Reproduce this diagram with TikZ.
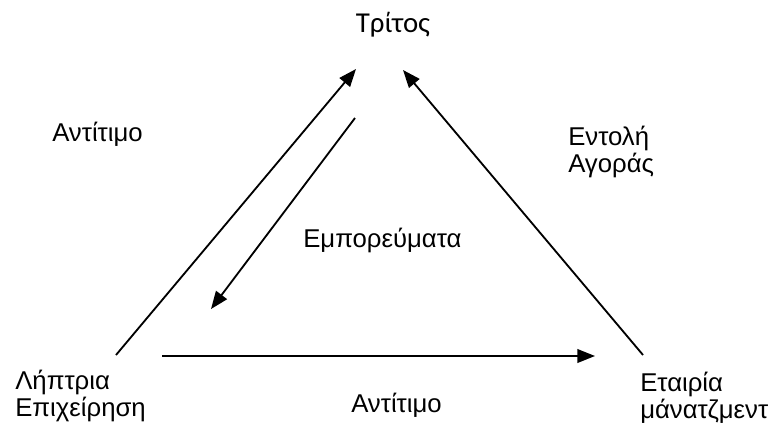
\documentclass[tikz,border=0pt]{standalone}
\usepackage{fontspec}
\setmainfont{Liberation Sans}
\newfontfamily\titlefont{Carlito}
\usetikzlibrary{arrows.meta}

\begin{document}
\begin{tikzpicture}[x=0.025cm,y=-0.025cm,>={Triangle[length=0.44cm,width=0.34cm]},
  lbl/.style={anchor=base west,inner sep=0pt,align=left,font=\fontsize{18.3pt}{19.2pt}\selectfont},
  flow/.style={->,line width=1.3pt}]
  \useasboundingbox (0,0) rectangle (774,429);
  % the three parties
  \node[anchor=base,inner sep=0pt,font=\titlefont\fontsize{20.5pt}{24pt}\selectfont] (tritos) at (393,32) {Τρίτος};
  \node[lbl] (lipt) at (15,416) {Λήπτρια\\Επιχείρηση};
  \node[lbl] (etair) at (640,418) {Εταιρία\\μάνατζμεντ};
  % flow labels
  \node[lbl] (antL) at (52,141) {Αντίτιμο};
  \node[lbl] (empor) at (303,247) {Εμπορεύματα};
  \node[lbl] (entol) at (568,172) {Εντολή\\Αγοράς};
  \node[lbl] (antB) at (351,412) {Αντίτιμο};
  % arrow ends
  \coordinate (p1) at (116,355);
  \coordinate (q1) at (356,69);
  \coordinate (p2) at (355,118);
  \coordinate (q2) at (211,309);
  \coordinate (p3) at (643,355);
  \coordinate (q3) at (403,70);
  \coordinate (p4) at (162,356);
  \coordinate (q4) at (595,356);
  \draw[flow] (p1) -- (q1);
  \draw[flow] (p2) -- (q2);
  \draw[flow] (p3) -- (q3);
  \draw[flow] (p4) -- (q4);
\end{tikzpicture}
\end{document}
